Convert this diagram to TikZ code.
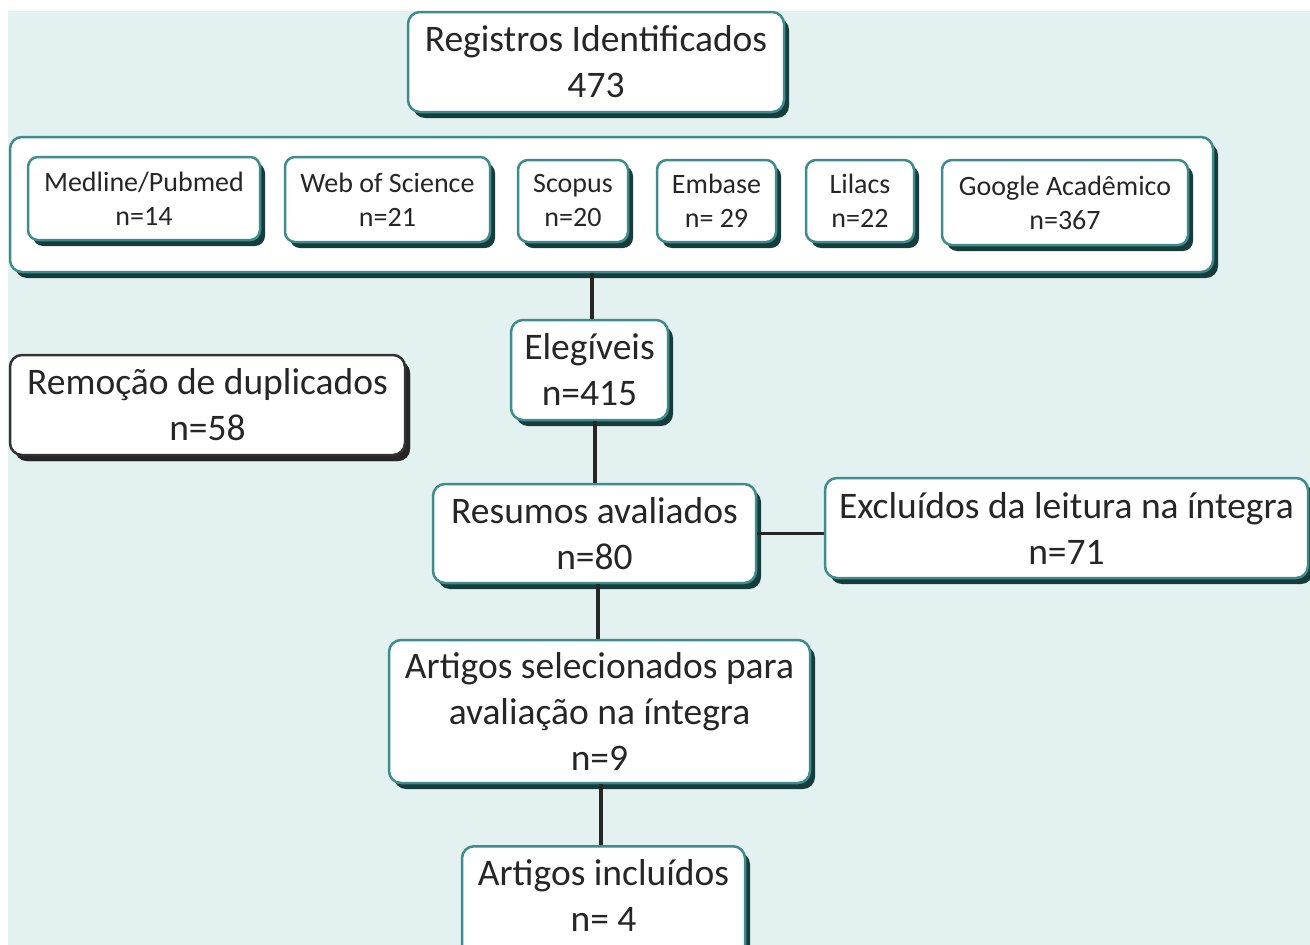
\documentclass[tikz,border=0pt]{standalone}
\usepackage{fontspec}
\setmainfont{Carlito}
\usetikzlibrary{shadows}
\definecolor{bgmint}{HTML}{E3F2F0}
\definecolor{bordteal}{HTML}{3F8C8C}
\definecolor{shadteal}{HTML}{163C3C}
\definecolor{txt}{HTML}{262626}
\tikzset{
  box/.style={draw=bordteal, line width=2.5pt, fill=white, rounded corners=12pt, text=txt,
    align=center, inner sep=0pt,
    general shadow={shadow xshift=5pt, shadow yshift=-6pt, fill=shadteal, rounded corners=12pt}},
  darkbox/.style={box, draw=black!80, general shadow={shadow xshift=5pt, shadow yshift=-6pt, fill=black!85, rounded corners=12pt}},
  small/.style={rounded corners=10pt, font=\fontsize{28}{34}\selectfont},
  big/.style={font=\fontsize{37.5}{46}\selectfont},
  conn/.style={draw=black!85, line width=3.5pt}
}
\begin{document}
\begin{tikzpicture}[x=1pt,y=-1pt]
\useasboundingbox (0,0) rectangle (1310,945);
\fill[white] (0,0) rectangle (1310,945);
\fill[bgmint] (8,11) rectangle (1310,945);

\node[box,big,minimum width=376pt,minimum height=100pt] (reg) at (596,62) {Registros Identificados\\473};

\node[box,minimum width=1203pt,minimum height=135pt] (outer) at (611.5,204.5) {};
\node[box,small,minimum width=232pt,minimum height=83pt] (med) at (144,198.5) {Medline/Pubmed\\n=14};
\node[box,small,minimum width=205pt,minimum height=85pt] (wos) at (387.5,199.5) {Web of Science\\n=21};
\node[box,small,minimum width=110pt,minimum height=82pt] (sco) at (573,201) {Scopus\\n=20};
\node[box,small,minimum width=119pt,minimum height=82pt] (emb) at (716.5,201) {Embase\\n= 29};
\node[box,small,minimum width=108pt,minimum height=82pt] (lil) at (860,201) {Lilacs\\n=22};
\node[box,small,minimum width=246pt,minimum height=85pt] (goo) at (1065,202.5) {Google Acadêmico\\n=367};

\node[box,big,minimum width=157pt,minimum height=100pt] (ele) at (589.5,370) {Elegíveis\\n=415};
\node[darkbox,big,minimum width=395pt,minimum height=100pt] (rem) at (207.5,405) {Remoção de duplicados\\n=58};
\node[box,big,minimum width=323pt,minimum height=99pt] (res) at (594.5,533.5) {Resumos avaliados\\n=80};
\node[box,big,minimum width=483pt,minimum height=100pt] (exc) at (1066.5,528) {Excluídos da leitura na íntegra\\n=71};
\node[box,big,minimum width=421pt,minimum height=143pt] (sel) at (599.5,711.5) {Artigos selecionados para\\avaliação na íntegra\\n=9};
\node[box,big,minimum width=283pt,minimum height=120pt,anchor=north] (inc) at (603.5,845) {};
\node[big,text=txt,align=center] (inct) at (603.5,895) {Artigos incluídos\\n= 4};

\draw[conn] (outer.south -| 592,0) -- (ele.north -| 592,0);
\draw[conn] (ele.south -| 595,0) -- (res.north -| 595,0);
\draw[conn] (res.south -| 598,0) -- (sel.north -| 598,0);
\draw[conn] (sel.south -| 601,0) -- (inc.north -| 601,0);
\draw[conn] (res.east) -- (exc.west |- res.east);
\end{tikzpicture}
\end{document}
